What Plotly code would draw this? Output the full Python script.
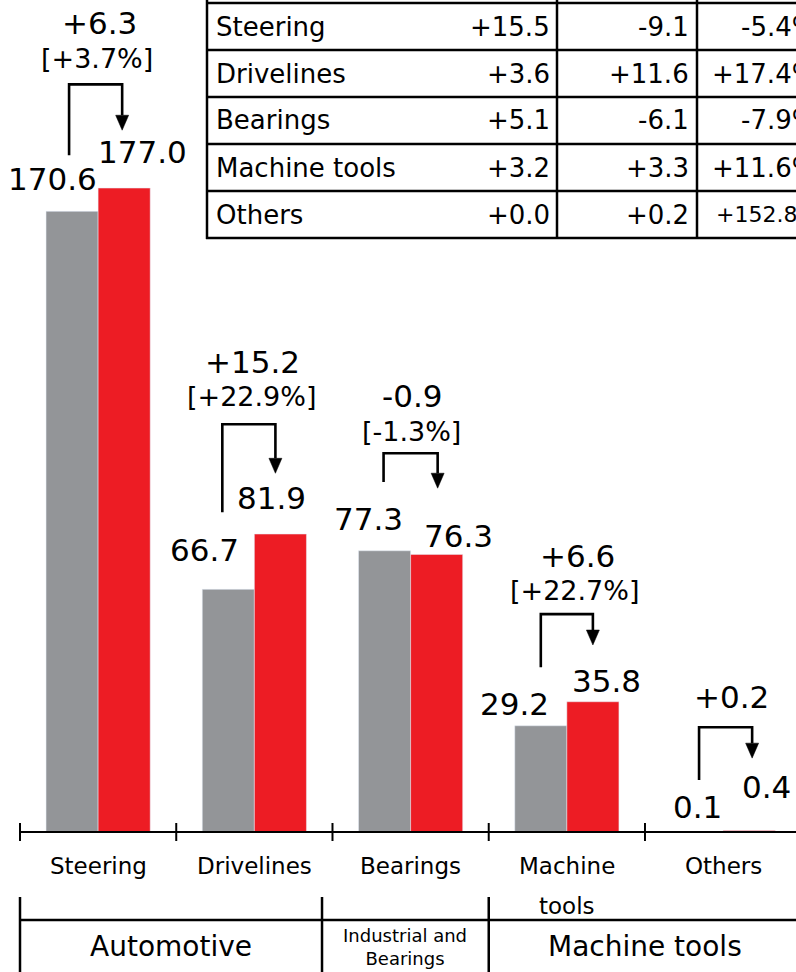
import plotly.graph_objects as go

# ---- data -------------------------------------------------------------
categories = ["Steering", "Drivelines", "Bearings", "Machine tools", "Others"]
axis_label_lines = [["Steering"], ["Drivelines"], ["Bearings"], ["Machine", "tools"], ["Others"]]
prev_values = [170.6, 66.7, 77.3, 29.2, 0.1]
curr_values = [177.0, 81.9, 76.3, 35.8, 0.4]
change_text = ["+6.3", "+15.2", "-0.9", "+6.6", "+0.2"]
change_pct = ["[+3.7%]", "[+22.9%]", "[-1.3%]", "[+22.7%]", None]

segments = ["Automotive", "Industrial and<br>Bearings", "Machine tools"]

table_rows = ["Steering", "Drivelines", "Bearings", "Machine tools", "Others"]
table_col1 = ["+15.5", "+3.6", "+5.1", "+3.2", "+0.0"]
table_col2 = ["-9.1", "+11.6", "-6.1", "+3.3", "+0.2"]
table_col3 = ["-5.4%", "+17.4%", "-7.9%", "+11.6%", "+152.8%"]

# ---- layout constants -------------------------------------------------
W, H = 796, 972
ML, MR, MT, MB = 12, 0, 0, 140
PLOT_W = W - ML - MR
PLOT_H = H - MT - MB
PX_PER_UNIT = 3.638
Y_MAX = PLOT_H / PX_PER_UNIT
X_RANGE = [-0.5512, 4.4666]
CAT_PX = PLOT_W / (X_RANGE[1] - X_RANGE[0])

FONT = "DejaVu Sans"
GRAY = "#939598"
RED = "#ED1C24"
INK = "#000000"

# value-label placement (pixel shift from bar centre / bar top)
prev_lbl_dx = [-20, -24, -16, -26, 0]
prev_lbl_dy = [32, 39, 32, 22, 25]
curr_lbl_dx = [18, -9, 22, 14, 17]
curr_lbl_dy = [36, 36, 18, 21, 44]

# elbow connectors, in axis units
conn_start = [186.0, 87.9, 96.2, 45.3, 14.3]
conn_top = [205.5, 112.1, 104.1, 59.9, 28.8]
conn_tip = [192.9, 98.6, 94.5, 51.4, 20.3]
conn_left_dx = [-3, -6, -1, 0, 2]
conn_right_dx = [-2, -5, 1, 0, 3]
chg_dx = [1, -2, 2, 11, 8]
chg_dy = [61, 62, 57, 58, 30]
pct_dx = [-1, -3, 1, 8, 0]
pct_dy = [26, 28, 22, 24, 0]

HEAD_HALF_W = 6.5 / CAT_PX
HEAD_H = 15 / PX_PER_UNIT

# segment box dividers (axis units)
seg_edges = [-0.5, 1.433, 2.5, 4.5]


def px_x(px):
    return (px - ML) / PLOT_W


def px_y(py):
    return (H - MB - py) / PLOT_H


n = len(categories)
xs = list(range(n))
off = 1 / 6

fig = go.Figure()
fig.add_trace(go.Bar(x=xs, y=prev_values, marker_color=GRAY, name="Previous"))
fig.add_trace(go.Bar(x=xs, y=curr_values, marker_color=RED, name="Current"))

# connectors with arrowheads
lx, ly, hx, hy = [], [], [], []
for i in range(n):
    xl = i - off + conn_left_dx[i] / CAT_PX
    xr = i + off + conn_right_dx[i] / CAT_PX
    lx += [xl, xl, xr, xr, None]
    ly += [conn_start[i], conn_top[i], conn_top[i], conn_tip[i] + HEAD_H, None]
    hx += [xr - HEAD_HALF_W, xr + HEAD_HALF_W, xr, xr - HEAD_HALF_W, None]
    hy += [conn_tip[i] + HEAD_H, conn_tip[i] + HEAD_H, conn_tip[i], conn_tip[i] + HEAD_H, None]

fig.add_trace(go.Scatter(x=lx, y=ly, mode="lines", line=dict(color=INK, width=2.6),
                         hoverinfo="skip", cliponaxis=False))
fig.add_trace(go.Scatter(x=hx, y=hy, mode="lines", fill="toself", fillcolor=INK,
                         line=dict(color=INK, width=0.5), hoverinfo="skip", cliponaxis=False))

ann = []
# value labels on bars
for i in range(n):
    ann.append(dict(x=i - off, y=prev_values[i], xref="x", yref="y", text=f"{prev_values[i]:.1f}",
                    showarrow=False, xanchor="center", yanchor="middle",
                    xshift=prev_lbl_dx[i], yshift=prev_lbl_dy[i],
                    font=dict(family=FONT, size=31, color=INK)))
    ann.append(dict(x=i + off, y=curr_values[i], xref="x", yref="y", text=f"{curr_values[i]:.1f}",
                    showarrow=False, xanchor="center", yanchor="middle",
                    xshift=curr_lbl_dx[i], yshift=curr_lbl_dy[i],
                    font=dict(family=FONT, size=31, color=INK)))
    # change amount and rate
    ann.append(dict(x=i, y=conn_top[i], xref="x", yref="y", text=change_text[i],
                    showarrow=False, xanchor="center", yanchor="middle",
                    xshift=chg_dx[i], yshift=chg_dy[i],
                    font=dict(family=FONT, size=31, color=INK)))
    if change_pct[i]:
        ann.append(dict(x=i, y=conn_top[i], xref="x", yref="y", text=change_pct[i],
                        showarrow=False, xanchor="center", yanchor="middle",
                        xshift=pct_dx[i], yshift=pct_dy[i],
                        font=dict(family=FONT, size=27, color=INK)))
    # category labels under the axis
    for k, line in enumerate(axis_label_lines[i]):
        ann.append(dict(x=i, y=px_y(866 + 40 * k), xref="x", yref="paper", text=line,
                        showarrow=False, xanchor="center", yanchor="middle",
                        font=dict(family=FONT, size=23, color=INK)))

# segment names
seg_sizes = [28, 18, 28]
for j, name in enumerate(segments):
    ann.append(dict(x=(seg_edges[j] + seg_edges[j + 1]) / 2, y=px_y(947), xref="x", yref="paper",
                    text=name, showarrow=False, xanchor="center", yanchor="middle",
                    font=dict(family=FONT, size=seg_sizes[j], color=INK)))

shapes = []
# category axis with crossing ticks
shapes.append(dict(type="line", xref="x", yref="paper", x0=-0.5, x1=4.5, y0=0, y1=0,
                   line=dict(color=INK, width=2)))
for i in range(n + 1):
    shapes.append(dict(type="line", xref="x", yref="paper", x0=i - 0.5, x1=i - 0.5,
                       y0=px_y(823), y1=px_y(841), line=dict(color=INK, width=2)))

# segment box
shapes.append(dict(type="line", xref="x", yref="paper", x0=-0.5, x1=4.6,
                   y0=px_y(920), y1=px_y(920), line=dict(color=INK, width=2.5)))
for e in seg_edges[:3]:
    shapes.append(dict(type="line", xref="x", yref="paper", x0=e, x1=e,
                       y0=px_y(897), y1=px_y(980), line=dict(color=INK, width=2.5)))

# breakdown table
row_lines = [3, 50, 97, 144, 191, 238]
col_lines = [207, 557, 697]
for ry in row_lines:
    shapes.append(dict(type="line", xref="paper", yref="paper", x0=px_x(206), x1=px_x(900),
                       y0=px_y(ry), y1=px_y(ry), line=dict(color=INK, width=2.5)))
for cx in col_lines:
    shapes.append(dict(type="line", xref="paper", yref="paper", x0=px_x(cx), x1=px_x(cx),
                       y0=px_y(-5), y1=px_y(239), line=dict(color=INK, width=2.5)))

for r in range(len(table_rows)):
    cy = px_y((row_lines[r] + row_lines[r + 1]) / 2)
    ann.append(dict(x=px_x(214), y=cy, xref="paper", yref="paper", text=table_rows[r],
                    showarrow=False, xanchor="left", yanchor="middle",
                    font=dict(family=FONT, size=26, color=INK)))
    ann.append(dict(x=px_x(552), y=cy, xref="paper", yref="paper", text=table_col1[r],
                    showarrow=False, xanchor="right", yanchor="middle",
                    font=dict(family=FONT, size=26, color=INK)))
    ann.append(dict(x=px_x(691), y=cy, xref="paper", yref="paper", text=table_col2[r],
                    showarrow=False, xanchor="right", yanchor="middle",
                    font=dict(family=FONT, size=26, color=INK)))
    if len(table_col3[r]) > 6:
        # long entry: smaller type starting just inside the cell
        ann.append(dict(x=px_x(714), y=cy, xref="paper", yref="paper", text=table_col3[r],
                        showarrow=False, xanchor="left", yanchor="middle",
                        font=dict(family=FONT, size=22, color=INK)))
    else:
        ann.append(dict(x=px_x(818), y=cy, xref="paper", yref="paper", text=table_col3[r],
                        showarrow=False, xanchor="right", yanchor="middle",
                        font=dict(family=FONT, size=26, color=INK)))

fig.update_layout(
    width=W, height=H, autosize=False,
    margin=dict(l=ML, r=MR, t=MT, b=MB, pad=0),
    paper_bgcolor="white", plot_bgcolor="white",
    barmode="group", bargap=1 / 3, bargroupgap=0,
    showlegend=False,
    xaxis=dict(range=X_RANGE, showticklabels=False, showgrid=False, zeroline=False,
               showline=False, ticks="", fixedrange=True),
    yaxis=dict(range=[0, Y_MAX], visible=False, fixedrange=True),
    annotations=ann, shapes=shapes,
    font=dict(family=FONT, color=INK),
)

fig.write_html("out.html", config={"displayModeBar": False})
